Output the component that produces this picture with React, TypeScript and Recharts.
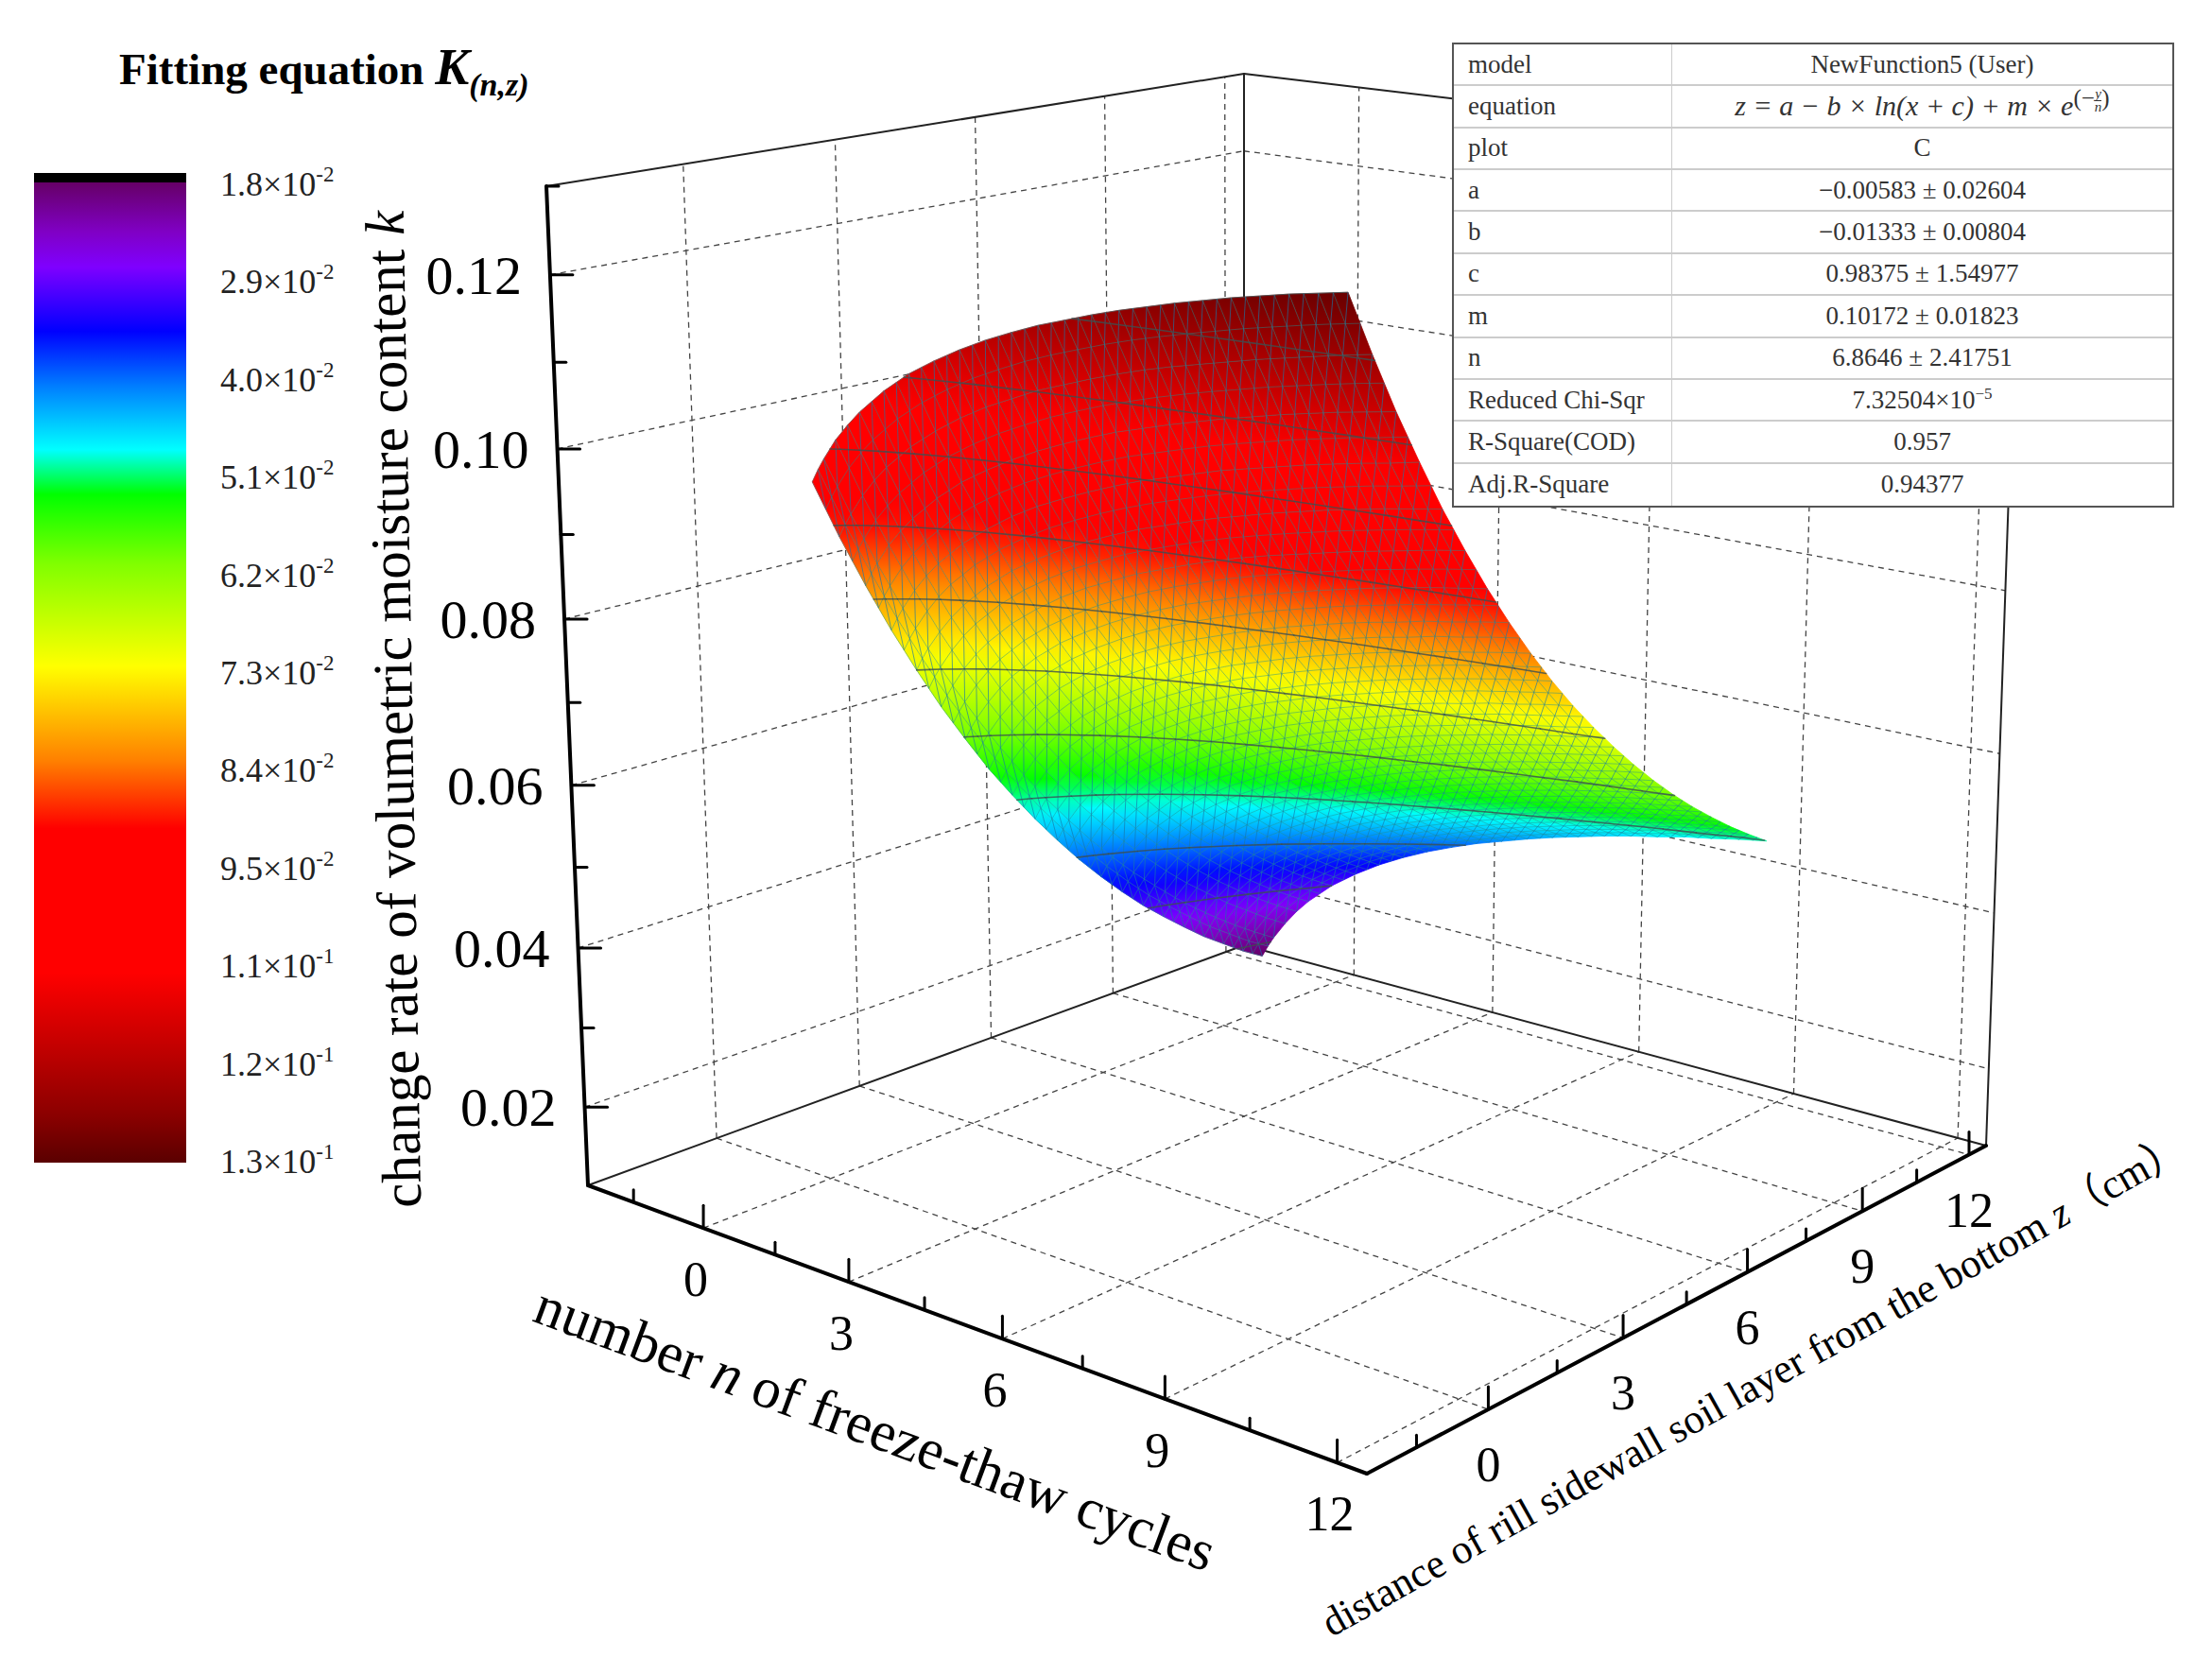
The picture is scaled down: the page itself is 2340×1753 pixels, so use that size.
import * as React from 'react';
import { Scatter, ScatterChart, XAxis, YAxis } from 'recharts';

// Surface values: one row per z, one column per n
const nValues = [0, 0.125, 0.25, 0.5, 0.75, 1, 1.5, 2, 2.5, 3, 3.5, 4, 4.5, 5, 5.5, 6, 6.5, 7, 7.5, 8, 8.5, 9, 9.5, 10];
const zValues = [0, 0.5, 1, 1.5, 2, 2.5, 3, 3.5, 4, 4.5, 5, 5.5, 6, 6.5, 7, 7.5, 8, 8.5, 9, 9.5, 10];
const kValues = [
  [0.0957, 0.0973, 0.0987, 0.1012, 0.1032, 0.105, 0.108, 0.1105, 0.1125, 0.1143, 0.1159, 0.1173, 0.1186, 0.1197, 0.1208, 0.1218, 0.1227, 0.1236, 0.1244, 0.1252, 0.1259, 0.1266, 0.1272, 0.1278],
  [0.0885, 0.0901, 0.0915, 0.094, 0.0961, 0.0979, 0.1009, 0.1033, 0.1054, 0.1072, 0.1087, 0.1102, 0.1114, 0.1126, 0.1137, 0.1147, 0.1156, 0.1164, 0.1172, 0.118, 0.1187, 0.1194, 0.1201, 0.1207],
  [0.0819, 0.0835, 0.0849, 0.0874, 0.0894, 0.0912, 0.0942, 0.0967, 0.0987, 0.1005, 0.1021, 0.1035, 0.1048, 0.106, 0.107, 0.108, 0.1089, 0.1098, 0.1106, 0.1114, 0.1121, 0.1128, 0.1134, 0.114],
  [0.0757, 0.0773, 0.0787, 0.0812, 0.0833, 0.0851, 0.0881, 0.0905, 0.0926, 0.0944, 0.0959, 0.0973, 0.0986, 0.0998, 0.1008, 0.1018, 0.1028, 0.1036, 0.1044, 0.1052, 0.1059, 0.1066, 0.1072, 0.1079],
  [0.07, 0.0716, 0.073, 0.0754, 0.0775, 0.0793, 0.0823, 0.0848, 0.0868, 0.0886, 0.0902, 0.0916, 0.0929, 0.094, 0.0951, 0.0961, 0.097, 0.0979, 0.0987, 0.0995, 0.1002, 0.1009, 0.1015, 0.1021],
  [0.0646, 0.0662, 0.0676, 0.0701, 0.0722, 0.074, 0.077, 0.0794, 0.0815, 0.0833, 0.0848, 0.0863, 0.0875, 0.0887, 0.0898, 0.0908, 0.0917, 0.0925, 0.0933, 0.0941, 0.0948, 0.0955, 0.0962, 0.0968],
  [0.0597, 0.0613, 0.0627, 0.0651, 0.0672, 0.069, 0.072, 0.0745, 0.0765, 0.0783, 0.0799, 0.0813, 0.0826, 0.0837, 0.0848, 0.0858, 0.0867, 0.0876, 0.0884, 0.0892, 0.0899, 0.0906, 0.0912, 0.0918],
  [0.055, 0.0566, 0.0581, 0.0605, 0.0626, 0.0644, 0.0674, 0.0698, 0.0719, 0.0737, 0.0753, 0.0767, 0.0779, 0.0791, 0.0802, 0.0812, 0.0821, 0.083, 0.0838, 0.0845, 0.0853, 0.0859, 0.0866, 0.0872],
  [0.0508, 0.0524, 0.0538, 0.0562, 0.0583, 0.0601, 0.0631, 0.0655, 0.0676, 0.0694, 0.071, 0.0724, 0.0737, 0.0748, 0.0759, 0.0769, 0.0778, 0.0787, 0.0795, 0.0802, 0.081, 0.0816, 0.0823, 0.0829],
  [0.0468, 0.0484, 0.0498, 0.0522, 0.0543, 0.0561, 0.0591, 0.0616, 0.0636, 0.0654, 0.067, 0.0684, 0.0697, 0.0708, 0.0719, 0.0729, 0.0738, 0.0747, 0.0755, 0.0763, 0.077, 0.0777, 0.0783, 0.0789],
  [0.0431, 0.0447, 0.0461, 0.0485, 0.0506, 0.0524, 0.0554, 0.0578, 0.0599, 0.0617, 0.0633, 0.0647, 0.066, 0.0671, 0.0682, 0.0692, 0.0701, 0.071, 0.0718, 0.0725, 0.0733, 0.0739, 0.0746, 0.0752],
  [0.0396, 0.0412, 0.0426, 0.0451, 0.0472, 0.049, 0.052, 0.0544, 0.0565, 0.0583, 0.0598, 0.0612, 0.0625, 0.0637, 0.0647, 0.0657, 0.0667, 0.0675, 0.0683, 0.0691, 0.0698, 0.0705, 0.0711, 0.0718],
  [0.0364, 0.038, 0.0394, 0.0419, 0.044, 0.0457, 0.0487, 0.0512, 0.0533, 0.055, 0.0566, 0.058, 0.0593, 0.0605, 0.0615, 0.0625, 0.0634, 0.0643, 0.0651, 0.0659, 0.0666, 0.0673, 0.0679, 0.0686],
  [0.0334, 0.035, 0.0364, 0.0389, 0.041, 0.0428, 0.0458, 0.0482, 0.0503, 0.0521, 0.0536, 0.055, 0.0563, 0.0575, 0.0586, 0.0595, 0.0605, 0.0613, 0.0621, 0.0629, 0.0636, 0.0643, 0.065, 0.0656],
  [0.0306, 0.0322, 0.0337, 0.0361, 0.0382, 0.04, 0.043, 0.0454, 0.0475, 0.0493, 0.0509, 0.0523, 0.0535, 0.0547, 0.0558, 0.0568, 0.0577, 0.0586, 0.0594, 0.0601, 0.0609, 0.0615, 0.0622, 0.0628],
  [0.0281, 0.0297, 0.0311, 0.0335, 0.0356, 0.0374, 0.0404, 0.0429, 0.0449, 0.0467, 0.0483, 0.0497, 0.051, 0.0521, 0.0532, 0.0542, 0.0551, 0.056, 0.0568, 0.0576, 0.0583, 0.059, 0.0596, 0.0602],
  [0.0257, 0.0273, 0.0287, 0.0312, 0.0332, 0.035, 0.038, 0.0405, 0.0425, 0.0443, 0.0459, 0.0473, 0.0486, 0.0497, 0.0508, 0.0518, 0.0527, 0.0536, 0.0544, 0.0552, 0.0559, 0.0566, 0.0572, 0.0578],
  [0.0234, 0.025, 0.0265, 0.0289, 0.031, 0.0328, 0.0358, 0.0382, 0.0403, 0.0421, 0.0437, 0.0451, 0.0463, 0.0475, 0.0486, 0.0496, 0.0505, 0.0514, 0.0522, 0.0529, 0.0537, 0.0543, 0.055, 0.0556],
  [0.0214, 0.023, 0.0244, 0.0269, 0.0289, 0.0307, 0.0337, 0.0362, 0.0382, 0.04, 0.0416, 0.043, 0.0443, 0.0454, 0.0465, 0.0475, 0.0484, 0.0493, 0.0501, 0.0509, 0.0516, 0.0523, 0.0529, 0.0535],
  [0.0194, 0.021, 0.0225, 0.0249, 0.027, 0.0288, 0.0318, 0.0342, 0.0363, 0.0381, 0.0397, 0.0411, 0.0423, 0.0435, 0.0446, 0.0456, 0.0465, 0.0474, 0.0482, 0.0489, 0.0497, 0.0503, 0.051, 0.0516],
  [0.0177, 0.0193, 0.0207, 0.0231, 0.0252, 0.027, 0.03, 0.0324, 0.0345, 0.0363, 0.0379, 0.0393, 0.0406, 0.0417, 0.0428, 0.0438, 0.0447, 0.0456, 0.0464, 0.0471, 0.0479, 0.0485, 0.0492, 0.0498],
];
const contourLevels = [0.02, 0.03, 0.04, 0.05, 0.06, 0.07, 0.08, 0.09, 0.1, 0.11, 0.12];

const nTicks = [0, 3, 6, 9, 12];
const nMinorTicks = [-1.5, 1.5, 4.5, 7.5, 10.5];
const zTicks = [0, 3, 6, 9, 12];
const zMinorTicks = [-1.5, 1.5, 4.5, 7.5, 10.5];
const kTicks = [0.02, 0.04, 0.06, 0.08, 0.1, 0.12];
const kMinorTicks = [0.03, 0.05, 0.07, 0.09, 0.11, 0.13];

const colorKeys = [0.018, 0.0235, 0.0275, 0.0347, 0.041, 0.048, 0.053, 0.0608, 0.0723, 0.0829, 0.0905, 0.1067, 0.1228, 0.13];
const colorHexes = ['#660066', '#8000c4', '#7f00ff', '#0000ff', '#0080ff', '#00ffff', '#00ff00', '#80ff00', '#ffff00', '#ff8000', '#ff0000', '#ff0000', '#8a0000', '#5a0000'];
const colorbarValues = [0.018, 0.029, 0.04, 0.051, 0.062, 0.073, 0.084, 0.095, 0.106, 0.117, 0.128];
const colorbarMantissa = ['1.8', '2.9', '4.0', '5.1', '6.2', '7.3', '8.4', '9.5', '1.1', '1.2', '1.3'];
const colorbarExponent = ['-2', '-2', '-2', '-2', '-2', '-2', '-2', '-2', '-1', '-1', '-1'];

const tableLabels = ['model', 'equation', 'plot', 'a', 'b', 'c', 'm', 'n', 'Reduced Chi-Sqr', 'R-Square(COD)', 'Adj.R-Square'];
const tableValues = ['NewFunction5 (User)', '', 'C', '\u22120.00583 ± 0.02604', '\u22120.01333 ± 0.00804', '0.98375 ± 1.54977', '0.10172 ± 0.01823', '6.8646 ± 2.41751', '', '0.957', '0.94377'];

const WIDTH = 2340;
const HEIGHT = 1753;
const SERIF = '"Liberation Serif", "Noto Sans CJK SC", serif';

type Pt = [number, number];

// corners of the 3D box on screen
const A0: Pt = [622, 1254];
const F0: Pt = [1446, 1559];
const B0: Pt = [1316, 1000];
const R0: Pt = [2101, 1212];
const A1: Pt = [578, 197];
const F1: Pt = [1454, 346];
const B1: Pt = [1316, 78];
const R1: Pt = [2137, 176];

const persp = (t: number, r: number) => t / (t + r * (1 - t));

function project(n: number, z: number, k: number): Pt {
  const sn = persp((n + 2.5) / 15, 1.15);
  const sz = persp((z + 2.5) / 15, 0.82);
  const sk = persp((k - 0.01) / 0.12, 1.07);
  const plane = (a: Pt, f: Pt, b: Pt, r: Pt, i: number) =>
    (1 - sn) * (1 - sz) * a[i] + sn * (1 - sz) * f[i] + (1 - sn) * sz * b[i] + sn * sz * r[i];
  const at = (i: number) => plane(A0, F0, B0, R0, i) * (1 - sk) + plane(A1, F1, B1, R1, i) * sk;
  return [at(0), at(1)];
}

function colorAt(k: number): string {
  let i = 0;
  while (i < colorKeys.length - 2 && k > colorKeys[i + 1]) i++;
  const t = Math.max(0, Math.min(1, (k - colorKeys[i]) / (colorKeys[i + 1] - colorKeys[i])));
  const ch = (h: string, p: number) => parseInt(h.slice(p, p + 2), 16);
  const mix = (p: number) => Math.round(ch(colorHexes[i], p) * (1 - t) + ch(colorHexes[i + 1], p) * t);
  return `rgb(${mix(1)},${mix(3)},${mix(5)})`;
}

const seg = (a: Pt, b: Pt) => ({ x: a[0], y: a[1], dx: b[0] - a[0], dy: b[1] - a[1] });

const lineShape = (stroke: string, width: number, dash?: string, opacity?: number) => (p: any) => (
  <line
    x1={p.cx}
    y1={p.cy}
    x2={p.cx + p.payload.dx}
    y2={p.cy + p.payload.dy}
    stroke={stroke}
    strokeWidth={width}
    strokeDasharray={dash}
    strokeOpacity={opacity}
    strokeLinecap={dash ? undefined : 'round'}
  />
);

// --- box lines
const N0 = -2.5;
const N1 = 12.5;
const K0 = 0.01;
const K1 = 0.13;

const dashedGrid = [
  ...kTicks.flatMap((k) => [seg(project(N0, N0, k), project(N0, N1, k)), seg(project(N0, N1, k), project(N1, N1, k))]),
  ...zTicks.flatMap((z) => [seg(project(N0, z, K0), project(N0, z, K1)), seg(project(N0, z, K0), project(N1, z, K0))]),
  ...nTicks.flatMap((n) => [seg(project(n, N1, K0), project(n, N1, K1)), seg(project(n, N0, K0), project(n, N1, K0))]),
];
const thinEdges = [seg(A0, B0), seg(B0, R0), seg(B0, B1), seg(R0, R1), seg(A1, B1), seg(B1, R1)];
const thickEdges = [seg(A0, A1), seg(A0, F0), seg(F0, R0)];

const up = (p: Pt, len: number) => seg(p, [p[0], p[1] - len]);
const right = (p: Pt, len: number) => seg(p, [p[0] + len, p[1]]);
const majorTicks = [
  ...nTicks.map((n) => up(project(n, N0, K0), 24)),
  ...zTicks.map((z) => up(project(N1, z, K0), 24)),
  ...kTicks.map((k) => right(project(N0, N0, k), 24)),
];
const minorTicks = [
  ...nMinorTicks.map((n) => up(project(n, N0, K0), 13)),
  ...zMinorTicks.map((z) => up(project(N1, z, K0), 13)),
  ...kMinorTicks.map((k) => right(project(N0, N0, k), 13)),
];

// --- surface
const stopOffsets = [-1, -0.5, 0, 0.5, 1];
const cells: any[] = [];
for (let j = zValues.length - 2; j >= 0; j--) {
  for (let i = 0; i < nValues.length - 1; i++) {
    const p00 = project(nValues[i], zValues[j], kValues[j][i]);
    const p10 = project(nValues[i + 1], zValues[j], kValues[j][i + 1]);
    const p11 = project(nValues[i + 1], zValues[j + 1], kValues[j + 1][i + 1]);
    const p01 = project(nValues[i], zValues[j + 1], kValues[j + 1][i]);
    const kc = (kValues[j][i] + kValues[j][i + 1] + kValues[j + 1][i + 1] + kValues[j + 1][i]) / 4;
    const cx = (p00[0] + p10[0] + p11[0] + p01[0]) / 4;
    const cy = (p00[1] + p10[1] + p11[1] + p01[1]) / 4;
    // screen direction in which k changes across this cell
    const kn = (kValues[j][i + 1] + kValues[j + 1][i + 1] - kValues[j][i] - kValues[j + 1][i]) / 2;
    const kz = (kValues[j + 1][i] + kValues[j + 1][i + 1] - kValues[j][i] - kValues[j][i + 1]) / 2;
    const ux = (p10[0] + p11[0] - p00[0] - p01[0]) / 2;
    const uy = (p10[1] + p11[1] - p00[1] - p01[1]) / 2;
    const vx = (p01[0] + p11[0] - p00[0] - p10[0]) / 2;
    const vy = (p01[1] + p11[1] - p00[1] - p10[1]) / 2;
    const det = ux * vy - uy * vx || 1;
    const gx = (kn * vy - kz * uy) / det;
    const gy = (kz * ux - kn * vx) / det;
    const g2 = gx * gx + gy * gy || 1;
    const dk = Math.abs(kn) + Math.abs(kz);
    cells.push({
      x: cx,
      y: cy,
      id: `c${i}-${j}`,
      rel: [p00, p10, p11, p01].map((p) => [p[0] - cx, p[1] - cy]),
      g: [(-gx / g2) * dk, (-gy / g2) * dk, (gx / g2) * dk, (gy / g2) * dk],
      stops: stopOffsets.map((o) => colorAt(kc + o * dk)),
      divN: nValues[i + 1] - nValues[i] >= 0.5 ? 2 : 1,
    });
  }
}

const CellShape = (p: any) => {
  const c = p.payload;
  const pts = c.rel.map((r: number[]) => `${p.cx + r[0]},${p.cy + r[1]}`).join(' ');
  return (
    <g>
      <defs>
        <linearGradient
          id={c.id}
          gradientUnits="userSpaceOnUse"
          x1={p.cx + c.g[0]}
          y1={p.cy + c.g[1]}
          x2={p.cx + c.g[2]}
          y2={p.cy + c.g[3]}
        >
          {c.stops.map((s: string, i: number) => (
            <stop key={i} offset={i / (c.stops.length - 1)} stopColor={s} />
          ))}
        </linearGradient>
      </defs>
      <polygon points={pts} fill={`url(#${c.id})`} stroke={`url(#${c.id})`} strokeWidth={0.8} />
    </g>
  );
};

// the wire mesh of the surface: finer than the value grid, with one diagonal per mesh cell
const MeshShape = (p: any) => {
  const { rel: r, divN } = p.payload;
  const at = (u: number, v: number) => {
    const q = (i: number) =>
      (1 - u) * (1 - v) * r[0][i] + u * (1 - v) * r[1][i] + u * v * r[2][i] + (1 - u) * v * r[3][i];
    return `${(p.cx + q(0)).toFixed(1)} ${(p.cy + q(1)).toFixed(1)}`;
  };
  let grid = '';
  let diag = '';
  for (let a = 0; a < divN; a++) {
    for (let b = 0; b < 2; b++) {
      const u0 = a / divN;
      const u1 = (a + 1) / divN;
      const v0 = b / 2;
      const v1 = (b + 1) / 2;
      grid += `M${at(u0, v1)}L${at(u0, v0)}L${at(u1, v0)}`;
      diag += `M${at(u1, v0)}L${at(u0, v1)}`;
    }
  }
  return (
    <g fill="none">
      <path d={grid} stroke="#1f8f8f" strokeOpacity={0.6} strokeWidth={0.8} />
      <path d={diag} stroke="#1878a8" strokeOpacity={0.65} strokeWidth={1} />
    </g>
  );
};

// contour lines: crossings of each level along the grid columns and the two end rows
const contourSegs = contourLevels.flatMap((level) => {
  const cross: { n: number; z: number }[] = [];
  nValues.forEach((n, i) => {
    for (let j = 0; j < zValues.length - 1; j++) {
      const a = kValues[j][i];
      const b = kValues[j + 1][i];
      if ((a - level) * (b - level) <= 0 && a !== b) {
        cross.push({ n, z: zValues[j] + ((a - level) / (a - b)) * (zValues[j + 1] - zValues[j]) });
        break;
      }
    }
  });
  [0, zValues.length - 1].forEach((j) => {
    for (let i = 0; i < nValues.length - 1; i++) {
      const a = kValues[j][i];
      const b = kValues[j][i + 1];
      if ((a - level) * (b - level) < 0) {
        cross.push({ n: nValues[i] + ((level - a) / (b - a)) * (nValues[i + 1] - nValues[i]), z: zValues[j] });
      }
    }
  });
  cross.sort((a, b) => a.n - b.n);
  return cross.slice(1).map((c, i) => seg(project(cross[i].n, cross[i].z, level), project(c.n, c.z, level)));
});

// --- text
const labelData: any[] = [
  ...kTicks.map((k) => {
    const p = project(N0, N0, k);
    return { x: p[0] - 30, y: p[1] + 20, anchor: 'end', size: 58, spans: [{ t: k.toFixed(2) }] };
  }),
  ...nTicks.map((n) => {
    const p = project(n, N0, K0);
    return { x: p[0] - 8, y: p[1] + 72, anchor: 'middle', size: 52, spans: [{ t: String(n) }] };
  }),
  ...zTicks.map((z) => {
    const p = project(N1, z, K0);
    return { x: p[0], y: p[1] + 76, anchor: 'middle', size: 52, spans: [{ t: String(z) }] };
  }),
  {
    x: 436,
    y: 750,
    rotate: -91,
    anchor: 'middle',
    size: 59,
    spans: [{ t: 'change rate of volumetric moisture content ' }, { t: 'k', italic: true }],
  },
  {
    x: 919,
    y: 1530,
    rotate: 20.4,
    anchor: 'middle',
    size: 60.5,
    spans: [{ t: 'number ' }, { t: 'n', italic: true }, { t: ' of freeze-thaw cycles' }],
  },
  {
    x: 1862,
    y: 1478,
    rotate: -29.3,
    anchor: 'middle',
    size: 43.5,
    spans: [{ t: 'distance of rill sidewall soil layer from the bottom ' }, { t: 'z', italic: true }, { t: '（cm）' }],
  },
  {
    x: 126,
    y: 89,
    anchor: 'start',
    size: 47,
    spans: [
      { t: 'Fitting equation ', bold: true },
      { t: 'K', bold: true, italic: true, size: 54 },
      { t: '(n,z)', bold: true, italic: true, size: 34, dy: 12 },
    ],
  },
  ...colorbarValues.map((v, i) => ({
    x: 233,
    y: 194 + ((v - 0.018) / 0.11) * 1034 + 13,
    anchor: 'start',
    size: 36,
    color: '#222',
    spans: [
      { t: colorbarMantissa[i] },
      { t: '×', size: 36 },
      { t: '10' },
      { t: colorbarExponent[i], size: 23, dy: -15 },
    ],
  })),
];

const LabelShape = (p: any) => {
  const l = p.payload;
  return (
    <text
      x={p.cx}
      y={p.cy}
      textAnchor={l.anchor}
      fontFamily={SERIF}
      fontSize={l.size}
      fill={l.color ?? '#000'}
      transform={l.rotate ? `rotate(${l.rotate} ${p.cx} ${p.cy})` : undefined}
    >
      {l.spans.map((s: any, i: number) => (
        <tspan
          key={i}
          fontSize={s.size}
          fontStyle={s.italic ? 'italic' : undefined}
          fontWeight={s.bold ? 'bold' : undefined}
          dy={s.dy}
        >
          {s.t}
        </tspan>
      ))}
    </text>
  );
};

const ColorbarShape = (p: any) => (
  <g>
    <defs>
      <linearGradient id="colorbar" x1="0" y1="0" x2="0" y2="1">
        {colorKeys.map((k, i) => (
          <stop key={k} offset={(k - 0.018) / 0.11} stopColor={colorHexes[i]} />
        ))}
      </linearGradient>
    </defs>
    <rect x={p.cx} y={p.cy} width={161} height={10} fill="#000" />
    <rect x={p.cx} y={p.cy + 10} width={161} height={1037} fill="url(#colorbar)" />
  </g>
);

const Equation = () => (
  <span style={{ fontStyle: 'italic', fontSize: 30, whiteSpace: 'nowrap' }}>
    z = a − b × ln(x + c) + m × e
    <span style={{ position: 'relative', top: -10, fontStyle: 'normal', fontSize: 25 }}>
      (−
      <span style={{ display: 'inline-block', verticalAlign: 'middle', textAlign: 'center', fontSize: 15, lineHeight: '13px', fontStyle: 'italic' }}>
        <span style={{ display: 'block', borderBottom: '1px solid #333' }}>y</span>
        <span style={{ display: 'block' }}>n</span>
      </span>
      )
    </span>
  </span>
);

const Table = () => (
  <div
    style={{
      position: 'absolute',
      left: 1536,
      top: 45,
      width: 760,
      height: 488,
      background: '#fff',
      border: '2px solid #555',
      fontFamily: SERIF,
      fontSize: 27,
      color: '#333',
      display: 'grid',
      gridTemplateColumns: '231px 1fr',
      gridTemplateRows: 'repeat(11, 1fr)',
    }}
  >
    {tableLabels.map((label, i) => {
      const rowLine = i < tableLabels.length - 1 ? '2px solid #ccc' : undefined;
      return (
        <React.Fragment key={label}>
          <div style={{ borderBottom: rowLine, borderRight: '1px solid #ccc', paddingLeft: 15, display: 'flex', alignItems: 'center', whiteSpace: 'nowrap' }}>
            {label}
          </div>
          <div style={{ borderBottom: rowLine, display: 'flex', alignItems: 'center', justifyContent: 'center' }}>
            {label === 'equation' ? <Equation /> : null}
            {label === 'Reduced Chi-Sqr' ? (
              <span>
                7.32504×10<sup style={{ fontSize: 17, lineHeight: 0 }}>−5</sup>
              </span>
            ) : (
              tableValues[i]
            )}
          </div>
        </React.Fragment>
      );
    })}
  </div>
);

export default function App() {
  return (
    <div style={{ position: 'absolute', left: 0, top: 0, width: WIDTH, height: HEIGHT, background: '#fff' }}>
      <ScatterChart width={WIDTH} height={HEIGHT} margin={{ top: 0, right: 0, bottom: 0, left: 0 }}>
        <XAxis type="number" dataKey="x" domain={[0, WIDTH]} hide />
        <YAxis type="number" dataKey="y" domain={[0, HEIGHT]} reversed hide />
        <Scatter data={[{ x: 36, y: 183 }]} shape={ColorbarShape} isAnimationActive={false} />
        <Scatter data={dashedGrid} shape={lineShape('#444', 1.3, '6 5')} isAnimationActive={false} />
        <Scatter data={thinEdges} shape={lineShape('#222', 2)} isAnimationActive={false} />
        <Scatter data={thickEdges} shape={lineShape('#000', 4)} isAnimationActive={false} />
        <Scatter data={majorTicks} shape={lineShape('#000', 3)} isAnimationActive={false} />
        <Scatter data={minorTicks} shape={lineShape('#000', 3)} isAnimationActive={false} />
        <Scatter data={cells} shape={CellShape} isAnimationActive={false} />
        <Scatter data={cells} shape={MeshShape} isAnimationActive={false} />
        <Scatter data={contourSegs} shape={lineShape('#3d4f4f', 1.6, undefined, 0.8)} isAnimationActive={false} />
        <Scatter data={labelData} shape={LabelShape} isAnimationActive={false} />
      </ScatterChart>
      <Table />
    </div>
  );
}
